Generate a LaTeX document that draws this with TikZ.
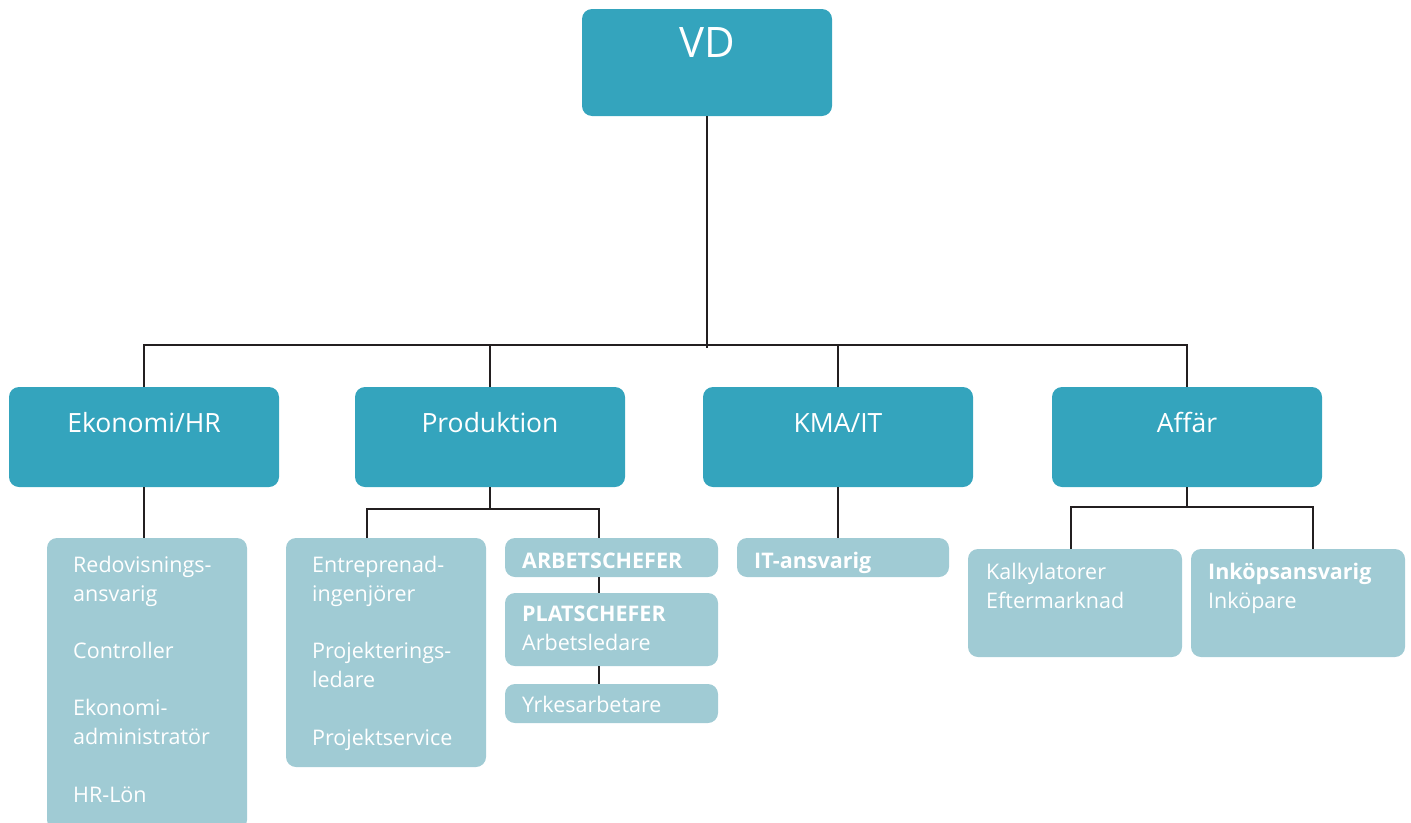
\documentclass[tikz,border=0pt]{standalone}
\usepackage{fontspec}
\setmainfont{Open Sans}
\definecolor{orgdark}{RGB}{52,164,189}
\definecolor{orglight}{RGB}{160,203,212}
\definecolor{orgline}{RGB}{35,31,32}

\begin{document}
\begin{tikzpicture}[x=1pt, y=-1pt,
  box/.style={anchor=north west, inner sep=0pt, outer sep=0pt, rounded corners=10pt},
  chief/.style={box, fill=orgdark, minimum width=250pt, minimum height=107pt},
  dept/.style={box, fill=orgdark, minimum width=270pt, minimum height=100pt},
  staff/.style={box, fill=orglight},
  vdtext/.style={text=white, inner sep=0pt, anchor=base, font=\fontsize{42}{48}\selectfont},
  depttext/.style={text=white, inner sep=0pt, anchor=base, font=\fontsize{26.5}{32}\selectfont},
  % base of a roletext node = baseline of its last line
  roletext/.style={text=white, inner sep=0pt, anchor=base west, align=left,
    font=\fontsize{21.5}{28.7}\selectfont},
  link/.style={draw=orgline, line width=2.6pt},
]
  \useasboundingbox (0,0) rectangle (1411,822);

  % top
  \node[chief] (vd) at (582,9) {};
  \node[vdtext] (vdT) at ([shift={(0,48)}]vd.north) {VD};

  % departments
  \node[dept] (eko) at (9,387) {};
  \node[dept] (prod) at (355,387) {};
  \node[dept] (kma) at (703,387) {};
  \node[dept] (aff) at (1052,387) {};
  \node[depttext] (ekoT) at ([shift={(0,45)}]eko.north) {Ekonomi/HR};
  \node[depttext] (prodT) at ([shift={(0,45)}]prod.north) {Produktion};
  \node[depttext] (kmaT) at ([shift={(0,45)}]kma.north) {KMA/IT};
  \node[depttext] (affT) at ([shift={(0,45)}]aff.north) {Affär};

  % staff boxes
  \node[staff, minimum width=200pt, minimum height=292pt] (ekoS) at (47,538) {};
  \node[staff, minimum width=200pt, minimum height=229pt] (prodS) at (286,538) {};
  \node[staff, minimum width=213pt, minimum height=39pt] (arb) at (505,538) {};
  \node[staff, minimum width=213pt, minimum height=73pt] (plat) at (505,593) {};
  \node[staff, minimum width=213pt, minimum height=39pt] (yrk) at (505,684) {};
  \node[staff, minimum width=212pt, minimum height=39pt] (its) at (737,538) {};
  \node[staff, minimum width=214pt, minimum height=108pt] (kalk) at (968,549) {};
  \node[staff, minimum width=214pt, minimum height=108pt] (inkop) at (1191,549) {};

  \node[roletext] (ekoST) at ([shift={(26,264)}]ekoS.north west)
    {Redovisnings-\\ansvarig\\[28.7pt]Controller\\[28.7pt]Ekonomi-\\administratör\\[28.7pt]HR-Lön};
  \node[roletext] (prodST) at ([shift={(26,207)}]prodS.north west)
    {Entreprenad-\\ingenjörer\\[28.7pt]Projekterings-\\ledare\\[28.7pt]Projektservice};
  \node[roletext] (arbT) at ([shift={(17,30)}]arb.north west) {\textbf{ARBETSCHEFER}};
  \node[roletext] (platT) at ([shift={(17,57)}]plat.north west) {\textbf{PLATSCHEFER}\\Arbetsledare};
  \node[roletext] (yrkT) at ([shift={(17,28)}]yrk.north west) {Yrkesarbetare};
  \node[roletext] (itsT) at ([shift={(17,30)}]its.north west) {\textbf{IT-ansvarig}};
  \node[roletext] (kalkT) at ([shift={(18,59)}]kalk.north west) {Kalkylatorer\\Eftermarknad};
  \node[roletext] (inkopT) at ([shift={(17,59)}]inkop.north west) {\textbf{Inköpsansvarig}\\Inköpare};

  % connectors
  \coordinate (bus) at (0,345);
  \coordinate (p1) at (367,509);
  \coordinate (p2) at (599,509);
  \coordinate (a1) at (1071,507);
  \coordinate (a2) at (1313,507);

  \draw[link] (vd.south) -- ([yshift=-3pt]vd.south |- bus);
  \draw[link] (eko.north) |- (aff.north |- bus) -- (aff.north);
  \draw[link] (prod.north) -- (prod.north |- bus);
  \draw[link] (kma.north) -- (kma.north |- bus);

  \draw[link] (eko.south) -- (eko.south |- ekoS.north);
  \draw[link] (prod.south) -- (prod.south |- p1);
  \draw[link] (p1 |- prodS.north) -- (p1) -- (p2) -- (p2 |- arb.north);
  \draw[link] (p2 |- arb.south) -- (p2 |- plat.north);
  \draw[link] (p2 |- plat.south) -- (p2 |- yrk.north);
  \draw[link] (kma.south) -- (kma.south |- its.north);
  \draw[link] (aff.south) -- (aff.south |- a1);
  \draw[link] (a1 |- kalk.north) -- (a1) -- (a2) -- (a2 |- inkop.north);
\end{tikzpicture}
\end{document}
